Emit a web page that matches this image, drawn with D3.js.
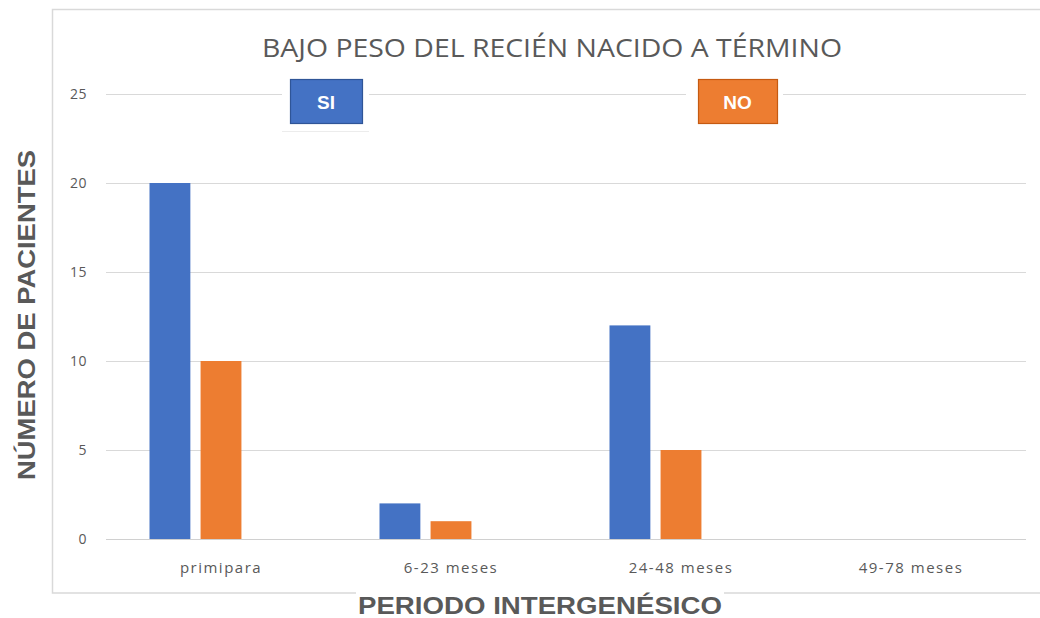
<!DOCTYPE html>
<html><head><meta charset="utf-8">
<script src="https://cdn.jsdelivr.net/npm/d3@7"></script>
<style>body{margin:0;background:#fff}svg{display:block}</style>
</head><body>
<script>
const categories = ["primipara", "6-23 meses", "24-48 meses", "49-78 meses"];
const seriesNames = ["SI", "NO", ""];
const siValues = [20, 2, 12, 0];
const noValues = [10, 1, 5, 0];
const emptyValues = [0, 0, 0, 0];
const yTicks = [0, 5, 10, 15, 20, 25];
const colors = ["#4472C4", "#ED7D31", "#A5A5A5"];
const titleText = "BAJO PESO DEL RECIÉN NACIDO A TÉRMINO";
const yTitle = "NÚMERO DE PACIENTES";
const xTitle = "PERIODO INTERGENÉSICO";

const W = 1040, H = 618;
const svg = d3.select("body").append("svg").attr("width", W).attr("height", H);
const grey = "#595959";

// outer border
svg.append("rect").attr("x", 52.5).attr("y", 9.5).attr("width", 1000).attr("height", 583.5)
  .attr("fill", "#fff").attr("stroke", "#d9d9d9").attr("stroke-width", 1.5);

const x0 = d3.scaleBand().domain(categories).range([106, 1026]).paddingInner(0).paddingOuter(0);
const x1 = d3.scaleBand().domain(seriesNames).range([43.5, 186.5]).paddingInner(0.2).paddingOuter(0);
const y = d3.scaleLinear().domain([0, 25]).range([539, 94]);

// gridlines
svg.append("g").selectAll("line").data(yTicks).join("line")
  .attr("x1", 106).attr("x2", 1026)
  .attr("y1", d => Math.round(y(d)) + 0.5).attr("y2", d => Math.round(y(d)) + 0.5)
  .attr("stroke", d => d === 0 ? "#d0d0d0" : "#d9d9d9").attr("stroke-width", 1.2);

// y tick labels
svg.append("g").selectAll("text").data(yTicks).join("text")
  .attr("x", 87).attr("y", d => y(d)).attr("dy", "0.35em")
  .attr("text-anchor", "end").attr("fill", grey)
  .style("font-family", "'Open Sans', sans-serif").style("font-size", "14px")
  .style("letter-spacing", "0.5px")
  .text(d => d);

// bars
const series = [siValues, noValues, emptyValues];
categories.forEach((c, i) => {
  series.forEach((vals, s) => {
    const v = vals[i];
    if (v <= 0) return;
    svg.append("rect")
      .attr("x", x0(c) + x1(seriesNames[s]))
      .attr("y", y(v))
      .attr("width", x1.bandwidth())
      .attr("height", y(0) - y(v))
      .attr("fill", colors[s]);
  });
});

// x labels
svg.append("g").selectAll("text").data(categories).join("text")
  .attr("x", d => x0(d) + x0.bandwidth() / 2).attr("y", 573)
  .attr("text-anchor", "middle").attr("fill", grey)
  .style("font-family", "'Open Sans', sans-serif").style("font-size", "15px")
  .style("letter-spacing", "1.5px")
  .text(d => d);

// title
svg.append("text").attr("x", 552).attr("y", 57).attr("text-anchor", "middle")
  .attr("fill", grey).style("font-family", "'Open Sans', sans-serif").style("font-size", "26px")
  .attr("textLength", 580).attr("lengthAdjust", "spacingAndGlyphs")
  .text(titleText);

// legend boxes
const legend = [
  {name: "SI", bg: [282, 369], box: [290, 362], color: colors[0], stroke: "#2F5597"},
  {name: "NO", bg: [686, 783], box: [698, 777], color: colors[1], stroke: "#C55A11"}
];
legend.forEach(l => {
  svg.append("rect").attr("x", l.bg[0]).attr("y", 76).attr("width", l.bg[1] - l.bg[0]).attr("height", 55).attr("fill", "#fff");
  svg.append("rect").attr("x", l.box[0] + 0.5).attr("y", 79.5).attr("width", l.box[1] - l.box[0]).attr("height", 44)
    .attr("fill", l.color).attr("stroke", l.stroke).attr("stroke-width", 1.2);
  svg.append("text").attr("x", (l.box[0] + l.box[1]) / 2).attr("y", 102).attr("dy", "0.36em")
    .attr("text-anchor", "middle").attr("fill", "#fff")
    .style("font-family", "'Liberation Sans', Arial, sans-serif").style("font-weight", "bold").style("font-size", "19px")
    .text(l.name);
});
svg.append("line").attr("x1", 282).attr("x2", 369).attr("y1", 131.5).attr("y2", 131.5).attr("stroke", "#ececec");

// y title
svg.append("text").attr("transform", "translate(35,315) rotate(-90)")
  .attr("text-anchor", "middle").attr("fill", grey)
  .style("font-family", "'Liberation Sans', Arial, sans-serif").style("font-weight", "bold").style("font-size", "23px")
  .attr("textLength", 330).attr("lengthAdjust", "spacingAndGlyphs")
  .text(yTitle);

// x title with white background
svg.append("rect").attr("x", 356).attr("y", 588).attr("width", 368).attr("height", 28).attr("fill", "#fff");
svg.append("text").attr("x", 540).attr("y", 614).attr("text-anchor", "middle").attr("fill", grey)
  .style("font-family", "'Liberation Sans', Arial, sans-serif").style("font-weight", "bold").style("font-size", "24px")
  .attr("textLength", 364).attr("lengthAdjust", "spacingAndGlyphs")
  .text(xTitle);
</script>
</body></html>
